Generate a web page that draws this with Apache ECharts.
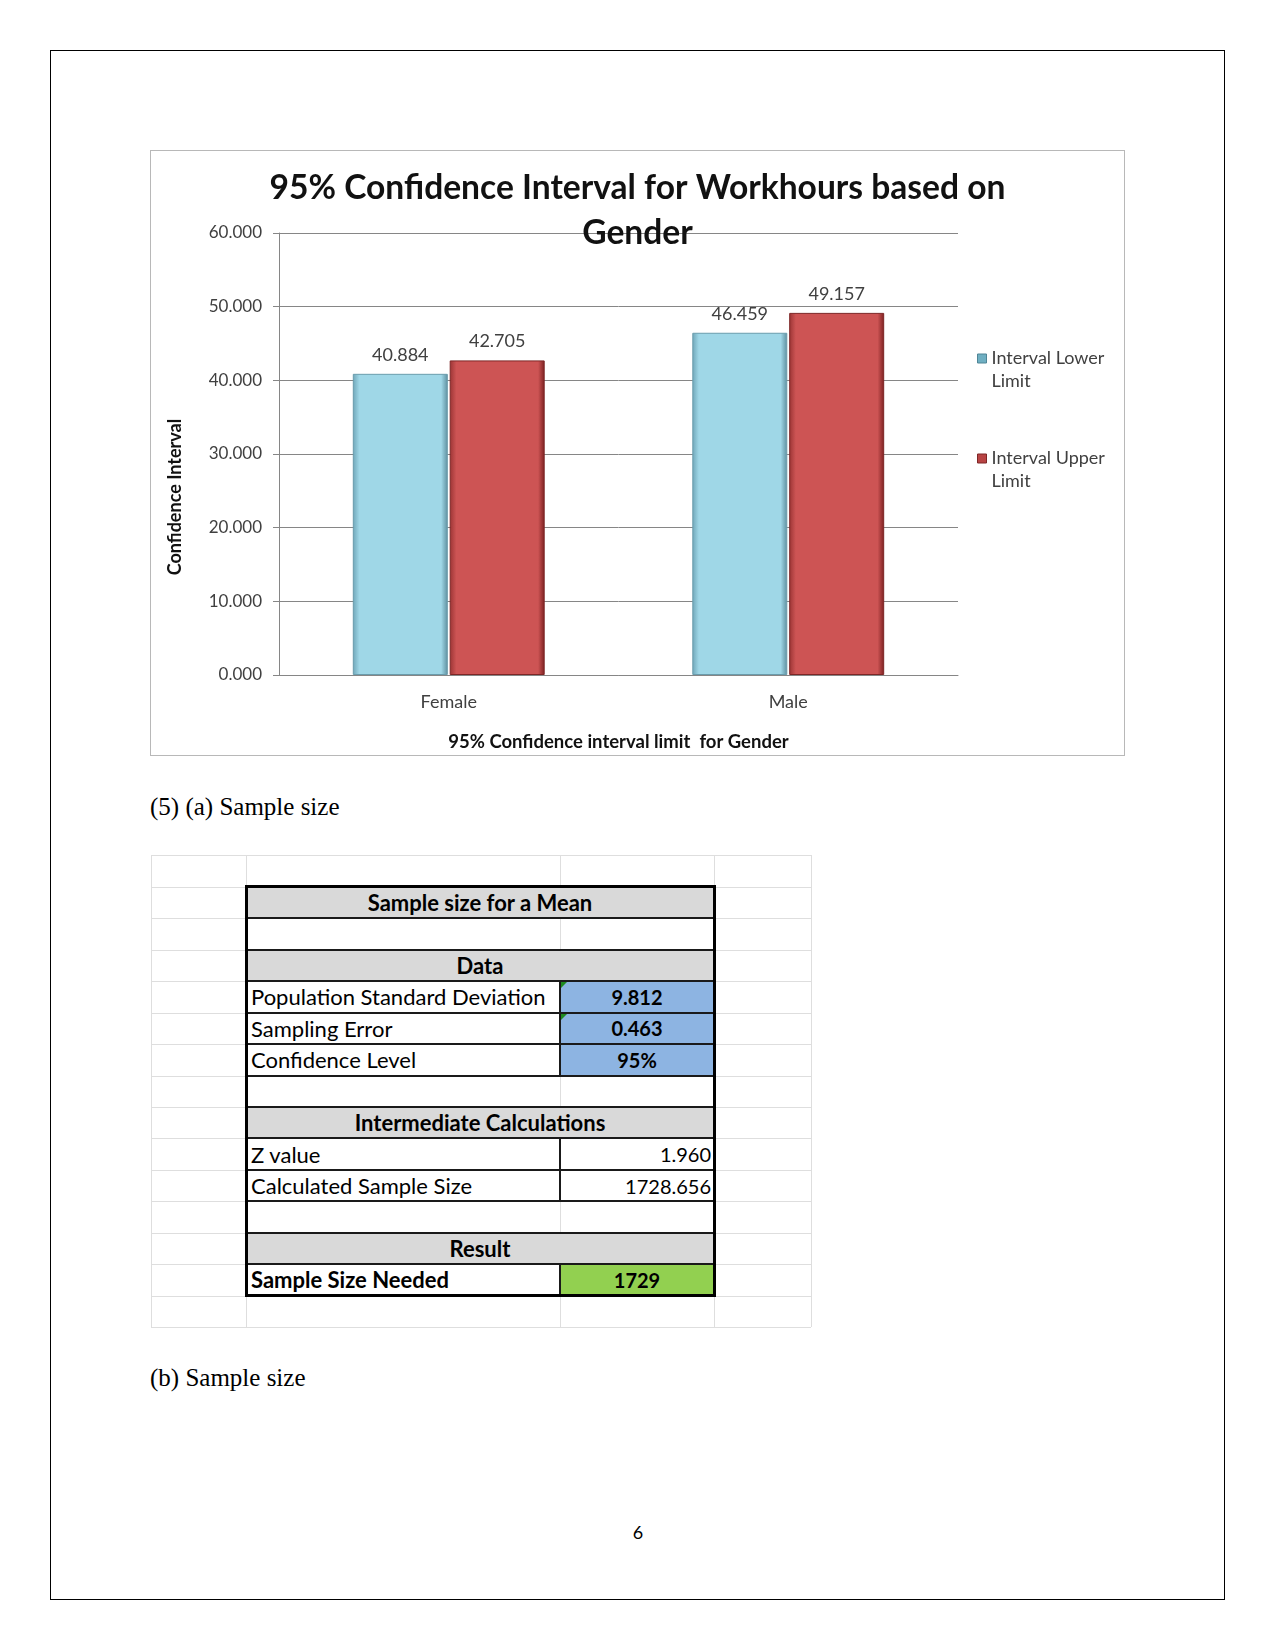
<!DOCTYPE html>
<html><head><meta charset="utf-8">
<script src="https://cdn.jsdelivr.net/npm/echarts@6/dist/echarts.min.js"></script>
<style>
html,body{margin:0;padding:0;background:#fff;}
body{width:1275px;height:1651px;position:relative;overflow:hidden;}
.abs{position:absolute;}
#page{left:50px;top:50px;width:1175px;height:1550px;border:1.5px solid #000;box-sizing:border-box;}
#chartFrame{left:150px;top:150px;width:975px;height:606px;border:1px solid #b8b8b8;box-sizing:border-box;}
#chart{left:150px;top:150px;width:975px;height:606px;}
.serif{font-family:"Liberation Serif","Times New Roman",serif;font-size:25px;line-height:25px;color:#000;white-space:nowrap;}
.cell{position:absolute;display:flex;align-items:center;box-sizing:border-box;font-family:Lato,"Noto Sans",sans-serif;font-size:22px;color:#000;white-space:nowrap;overflow:hidden;}
.num{font-size:20px;}
</style>
</head>
<body>
<div id="page" class="abs"></div>
<div id="chartFrame" class="abs"></div>
<div id="chart" class="abs"></div>
<div class="abs serif" style="left:150px;top:794px;">(5) (a) Sample size</div>
<div class="abs serif" style="left:150px;top:1365px;">(b) Sample size</div>
<div class="abs" style="left:618px;top:1523px;width:40px;text-align:center;font-family:Lato,sans-serif;font-size:18px;line-height:18px;color:#000;">6</div>
<div id="table"></div>
<script>
// ---------- chart data ----------
const categories = ["Female", "Male"];
const seriesNames = ["Interval Lower Limit", "Interval Upper Limit"];
const lowerLimit = [40.884, 46.459];
const upperLimit = [42.705, 49.157];
const chartTitle = "95% Confidence Interval for Workhours based on\nGender";
const xAxisTitle = "95% Confidence interval limit  for Gender";
const yAxisTitle = "Confidence Interval";

// ---------- table data ----------
const tableRows = [
  ["header", "Sample size for a Mean"],
  ["blank"],
  ["header", "Data"],
  ["input", "Population Standard Deviation", "9.812"],
  ["input", "Sampling Error", "0.463"],
  ["input", "Confidence Level", "95%"],
  ["blank"],
  ["header", "Intermediate Calculations"],
  ["calc", "Z value", "1.960"],
  ["calc", "Calculated Sample Size", "1728.656"],
  ["blank"],
  ["header", "Result"],
  ["result", "Sample Size Needed", "1729"]
];
const flaggedValues = ["9.812", "0.463"];

// ---------- chart ----------
const chart = echarts.init(document.getElementById('chart'), null, {renderer: 'canvas'});
function grad(edgeL, mid, edgeR) {
  return {type: 'linear', x: 0, y: 0, x2: 1, y2: 0, colorStops: [
    {offset: 0, color: edgeL}, {offset: 0.07, color: mid},
    {offset: 0.93, color: mid}, {offset: 1, color: edgeR}]};
}
const blue = grad('#6FA6B8', '#9FD7E7', '#5E8E9E');
const red = grad('#9A3434', '#CD5454', '#7A2020');
const labelStyle = {show: true, position: 'top', distance: 10, fontFamily: 'Lato', fontSize: 18,
  color: '#404040', formatter: p => p.value.toFixed(3)};
chart.setOption({
  animation: false,
  title: {text: chartTitle, left: 'center', top: 16, padding: 0,
    textStyle: {fontFamily: 'Lato', fontSize: 33.6, fontWeight: 'bold', color: '#111', lineHeight: 45}},
  legend: {orient: 'vertical', left: 827, top: 174, padding: 0, itemWidth: 9, itemHeight: 9, itemGap: 31,
    icon: 'rect',
    data: [
      {name: seriesNames[0], itemStyle: {color: '#6FAFC2', borderColor: '#4F8596', borderWidth: 1}},
      {name: seriesNames[1], itemStyle: {color: '#B84444', borderColor: '#7E2626', borderWidth: 1}}
    ],
    formatter: n => '\n' + n.replace(' Limit', '\nLimit'),
    textStyle: {fontFamily: 'Lato', fontSize: 18, color: '#404040', lineHeight: 23}},
  grid: {left: 129, top: 83, width: 679, height: 442, outerBoundsMode: 'none', containLabel: false},
  xAxis: {type: 'category', data: categories,
    axisLine: {lineStyle: {color: '#868686'}}, axisTick: {show: false},
    axisLabel: {margin: 18, fontFamily: 'Lato', fontSize: 18, color: '#404040'},
    name: xAxisTitle, nameLocation: 'middle', nameGap: 58,
    nameTextStyle: {fontFamily: 'Lato', fontSize: 18.5, fontWeight: 'bold', color: '#111'}},
  yAxis: {type: 'value', min: 0, max: 60, interval: 10,
    axisLine: {show: true, lineStyle: {color: '#868686'}},
    axisTick: {show: true, length: 6, lineStyle: {color: '#868686'}},
    splitLine: {lineStyle: {color: '#868686'}},
    axisLabel: {margin: 17, fontFamily: 'Lato', fontSize: 17, color: '#404040', formatter: v => v.toFixed(3)}},
  graphic: [{type: 'text', x: 25, y: 347, rotation: Math.PI / 2,
    style: {text: yAxisTitle, align: 'center', verticalAlign: 'middle', font: 'bold 18px Lato', fill: '#111'}}],
  series: [
    {name: seriesNames[0], type: 'bar', data: lowerLimit, barWidth: 95, barGap: '2%',
      itemStyle: {color: blue, borderColor: '#6A9CAC', borderWidth: 1}, label: labelStyle},
    {name: seriesNames[1], type: 'bar', data: upperLimit, barWidth: 95, barGap: '2%',
      itemStyle: {color: red, borderColor: '#7E2626', borderWidth: 1}, label: labelStyle}
  ]
});

// ---------- table ----------
(function buildTable() {
  const root = document.getElementById('table');
  const X = [151, 246, 560, 714, 811];
  const Y0 = 855.3, RH = 31.46, N = 15;
  function box(l, t, w, h, bg, html, extra, cls) {
    const d = document.createElement('div');
    d.className = 'cell' + (cls ? ' ' + cls : '');
    d.style.left = l + 'px'; d.style.top = t + 'px'; d.style.width = w + 'px'; d.style.height = h + 'px';
    if (bg) d.style.background = bg;
    if (html !== undefined) d.textContent = html;
    if (extra) Object.assign(d.style, extra);
    root.appendChild(d);
    return d;
  }
  // faint spreadsheet grid
  for (let k = 0; k <= N; k++) box(X[0], Y0 + k * RH, X[4] - X[0], 1, '#dedede');
  for (const x of X) box(x, Y0, 1, N * RH, '#dedede');
  const boxW = X[3] - X[1];
  tableRows.forEach((r, i) => {
    const top = Y0 + (i + 1) * RH;
    const type = r[0];
    if (type === 'header') {
      box(X[1], top, boxW, RH, '#D9D9D9', r[1], {justifyContent: 'center', fontWeight: 'bold'});
    } else if (type === 'blank') {
      box(X[1] + 1, top + 1, X[2] - X[1] - 1, RH - 1, '#fff');
      box(X[2] + 1, top + 1, X[3] - X[2] - 1, RH - 1, '#fff');
    } else {
      const bold = type === 'result';
      box(X[1], top, X[2] - X[1], RH, '#fff', r[1], {paddingLeft: '5px', fontWeight: bold ? 'bold' : 'normal'});
      const bg = type === 'input' ? '#8DB4E2' : (type === 'result' ? '#92D050' : '#fff');
      const st = type === 'calc'
        ? {justifyContent: 'flex-end', paddingRight: '3px'}
        : {justifyContent: 'center', fontWeight: 'bold'};
      box(X[2], top, X[3] - X[2], RH, bg, r[2], st, 'num');
      if (flaggedValues.includes(r[2])) {
        box(X[2] + 1, top + 1, 0, 0, null, undefined,
          {borderTop: '6px solid #1f8a1f', borderRight: '6px solid transparent'});
      }
      box(X[2] - 1, top, 2, RH, '#1a1a1a');
    }
  });
  // inner horizontal borders
  for (let k = 2; k <= tableRows.length; k++) box(X[1], Y0 + k * RH - 1, boxW, 2, '#1a1a1a');
  // outer border
  const bt = Y0 + RH, bh = tableRows.length * RH;
  box(X[1] - 1.5, bt - 1.5, boxW + 3, bh + 3, null, undefined, {border: '3px solid #000'});
})();
</script>
</body></html>
